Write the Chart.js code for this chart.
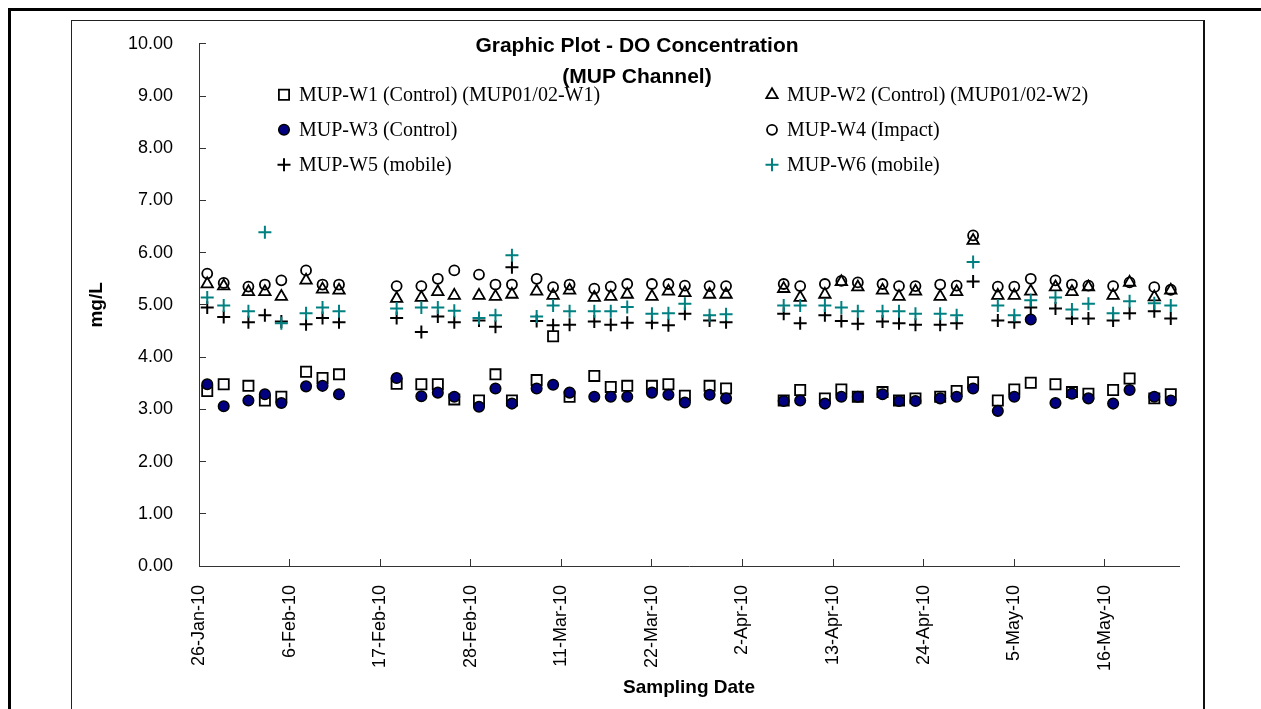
<!DOCTYPE html>
<html>
<head>
<meta charset="utf-8">
<title>Graphic Plot - DO Concentration (MUP Channel)</title>
<script src="https://cdn.jsdelivr.net/npm/chart.js@4.4.1/dist/chart.umd.min.js"></script>
<style>
  html, body { margin: 0; padding: 0; background: #fff; width: 1261px; height: 709px; overflow: hidden; }
  #outer { position: absolute; left: 8px; top: 8px; width: 1260px; height: 720px; border-top: 3px solid #000; border-left: 3px solid #000; box-sizing: border-box; }
  #inner { position: absolute; left: 71px; top: 20px; width: 1134px; height: 720px; border-left: 1px solid #222; border-top: 1px solid #222; border-right: 2px solid #111; box-sizing: border-box; }
  #wrap { position: absolute; left: 0; top: 0; width: 1261px; height: 709px; }
</style>
</head>
<body>
<div id="outer"></div>
<div id="inner"></div>
<div id="wrap"><canvas id="c" width="1261" height="709"></canvas></div>
<script>
// ---------------- DATA ----------------
const axisStart = '2010-01-26';
const axisEnd   = '2010-05-25';

const tickDates = ['2010-01-26','2010-02-06','2010-02-17','2010-02-28','2010-03-11','2010-03-22',
                   '2010-04-02','2010-04-13','2010-04-24','2010-05-05','2010-05-16'];

const yTicks = [0,1,2,3,4,5,6,7,8,9,10];

const sampleDates = [
  '2010-01-27','2010-01-29','2010-02-01','2010-02-03','2010-02-05','2010-02-08','2010-02-10','2010-02-12',
  '2010-02-19','2010-02-22','2010-02-24','2010-02-26','2010-03-01','2010-03-03','2010-03-05','2010-03-08',
  '2010-03-10','2010-03-12','2010-03-15','2010-03-17','2010-03-19','2010-03-22','2010-03-24','2010-03-26',
  '2010-03-29','2010-03-31','2010-04-07','2010-04-09','2010-04-12','2010-04-14','2010-04-16','2010-04-19',
  '2010-04-21','2010-04-23','2010-04-26','2010-04-28','2010-04-30','2010-05-03','2010-05-05','2010-05-07',
  '2010-05-10','2010-05-12','2010-05-14','2010-05-17','2010-05-19','2010-05-22','2010-05-24'
];

const seriesLabels = [
  'MUP-W1 (Control) (MUP01/02-W1)',
  'MUP-W2 (Control) (MUP01/02-W2)',
  'MUP-W3 (Control)',
  'MUP-W4 (Impact)',
  'MUP-W5 (mobile)',
  'MUP-W6 (mobile)'
];

const w1 = [3.35,3.48,3.45,3.17,3.24,3.72,3.60,3.67, 3.49,3.48,3.48,3.19,3.17,3.67,3.17,3.56,
            4.40,3.24,3.64,3.43,3.45,3.45,3.48,3.26, 3.45,3.40,3.17,3.37,3.21,3.38,3.24,3.33,
            3.17,3.21,3.24,3.35,3.52,3.17,3.38,3.51, 3.48,3.33,3.30,3.37,3.59,3.21,3.29];
const w2 = [5.40,5.36,5.25,5.25,5.16,5.47,5.30,5.28, 5.12,5.14,5.25,5.18,5.18,5.16,5.20,5.26,
            5.18,5.28,5.14,5.16,5.20,5.16,5.26,5.23, 5.20,5.20,5.31,5.14,5.20,5.44,5.34,5.28,
            5.16,5.26,5.16,5.25,6.23,5.18,5.18,5.26, 5.34,5.25,5.34,5.18,5.43,5.15,5.28];
const w3 = [3.48,3.06,3.17,3.29,3.12,3.44,3.45,3.29, 3.60,3.25,3.32,3.24,3.05,3.40,3.11,3.40,
            3.47,3.32,3.24,3.24,3.24,3.32,3.28,3.13, 3.28,3.21,3.16,3.17,3.11,3.24,3.24,3.29,
            3.16,3.16,3.21,3.24,3.40,2.97,3.24,4.72, 3.12,3.30,3.21,3.11,3.37,3.24,3.17];
const w4 = [5.60,5.42,5.35,5.39,5.47,5.66,5.39,5.39, 5.36,5.36,5.50,5.66,5.58,5.39,5.39,5.50,
            5.34,5.39,5.31,5.35,5.40,5.40,5.40,5.37, 5.36,5.36,5.40,5.36,5.40,5.46,5.43,5.40,
            5.36,5.36,5.39,5.37,6.33,5.35,5.35,5.50, 5.47,5.39,5.37,5.36,5.43,5.34,5.29];
const w5 = [4.95,4.77,4.67,4.80,4.68,4.63,4.75,4.67, 4.75,4.48,4.78,4.67,4.70,4.58,5.72,4.69,
            4.61,4.62,4.68,4.62,4.66,4.66,4.61,4.83, 4.70,4.67,4.83,4.65,4.80,4.69,4.64,4.68,
            4.65,4.62,4.62,4.65,5.45,4.70,4.67,4.95, 4.93,4.74,4.74,4.70,4.84,4.88,4.74];
const w6 = [5.14,4.99,4.88,6.39,4.65,4.84,4.95,4.88, 4.93,4.95,4.95,4.89,4.75,4.80,5.95,4.78,
            4.99,4.88,4.88,4.88,4.96,4.83,4.84,5.02, 4.80,4.82,4.99,4.99,4.99,4.95,4.88,4.88,
            4.88,4.83,4.83,4.80,5.82,4.99,4.80,5.09, 5.14,4.91,5.02,4.84,5.07,5.03,4.99];

const titleLines = ['Graphic Plot - DO Concentration', '(MUP Channel)'];
const xTitle = 'Sampling Date';
const yTitle = 'mg/L';

// ---------------- HELPERS ----------------
const DAY = 86400000;
const MON = ['Jan','Feb','Mar','Apr','May','Jun','Jul','Aug','Sep','Oct','Nov','Dec'];
function toUTC(s) { const p = s.split('-').map(Number); return Date.UTC(p[0], p[1] - 1, p[2]); }
const ORIGIN = toUTC(axisStart);
function dayNum(s) { return Math.round((toUTC(s) - ORIGIN) / DAY); }
function fmtDate(v) {
  const dt = new Date(ORIGIN + v * DAY);
  return dt.getUTCDate() + '-' + MON[dt.getUTCMonth()] + '-' + String(dt.getUTCFullYear()).slice(2);
}
function fontAvailable(name) {
  const c = document.createElement('canvas').getContext('2d');
  const t = 'MUP 10.00 Sampling Date mg/L Wm';
  c.font = '40px monospace'; const a = c.measureText(t).width;
  c.font = '40px "' + name + '", monospace'; const b = c.measureText(t).width;
  return Math.abs(a - b) > 0.5;
}
const NARROW = fontAvailable('Liberation Sans Narrow');
const SANS = NARROW ? '"Liberation Sans Narrow", "Liberation Sans", Arial, sans-serif'
                    : '"Liberation Sans", Arial, sans-serif';
const SERIF = '"Liberation Serif", "Times New Roman", serif';
const FS = NARROW ? { tick: 21, title: 24, axis: 22 } : { tick: 18, title: 21, axis: 19 };

function pts(vals) { return sampleDates.map((d, i) => ({ x: dayNum(d), y: vals[i] })); }

const styles = [
  { pointStyle: 'rect',     pointRadius: 7.2, borderColor: '#000',    backgroundColor: 'rgba(0,0,0,0)', borderWidth: 1.8 },
  { pointStyle: 'triangle', pointRadius: 6.6, borderColor: '#000',    backgroundColor: 'rgba(0,0,0,0)', borderWidth: 1.8 },
  { pointStyle: 'circle',   pointRadius: 5.3, borderColor: '#000',    backgroundColor: '#000080',       borderWidth: 1.5 },
  { pointStyle: 'circle',   pointRadius: 5.0, borderColor: '#000',    backgroundColor: 'rgba(0,0,0,0)', borderWidth: 1.8 },
  { pointStyle: 'cross',    pointRadius: 6.5, borderColor: '#000',    backgroundColor: '#000',          borderWidth: 2 },
  { pointStyle: 'cross',    pointRadius: 6.5, borderColor: '#008080', backgroundColor: '#008080',       borderWidth: 2 }
];
const seriesValues = [w1, w2, w3, w4, w5, w6];

const datasets = seriesValues.map((vals, i) => Object.assign({
  label: seriesLabels[i],
  data: pts(vals),
  showLine: false,
  pointHoverRadius: styles[i].pointRadius,
  order: 6 - i
}, styles[i], { pointBackgroundColor: styles[i].backgroundColor, pointBorderColor: styles[i].borderColor, pointBorderWidth: styles[i].borderWidth }));

// title + in-plot legend plugin
const overlayPlugin = {
  id: 'overlay',
  afterDatasetsDraw(chart) {
    const ctx = chart.ctx;
    const ca = chart.chartArea;
    ctx.save();
    // Title (centered on the frame)
    ctx.fillStyle = '#000';
    ctx.textAlign = 'center';
    ctx.textBaseline = 'middle';
    ctx.font = 'bold ' + FS.title + 'px ' + SANS;
    const cx = 637;
    titleLines.forEach((t, i) => ctx.fillText(t, cx, ca.top + 2 + i * 31));
    // Legend: two columns, three rows, inside plot area
    const colX = [ca.left + 85, ca.left + 573];
    const rowY0 = ca.top + 51, rowH = 35;
    chart.data.datasets.forEach((ds, i) => {
      const mx = colX[i % 2], my = rowY0 + Math.floor(i / 2) * rowH;
      ctx.strokeStyle = ds.borderColor;
      ctx.fillStyle = ds.backgroundColor;
      ctx.lineWidth = ds.borderWidth;
      Chart.helpers.drawPoint(ctx, { pointStyle: ds.pointStyle, radius: ds.pointRadius, borderWidth: ds.borderWidth, rotation: 0 }, mx, my);
      ctx.fillStyle = '#000';
      ctx.textAlign = 'left';
      ctx.textBaseline = 'middle';
      ctx.font = '20px ' + SERIF;
      ctx.fillText(ds.label, mx + 15, my + 1);
    });
    ctx.restore();
  }
};

new Chart(document.getElementById('c'), {
  type: 'scatter',
  data: { datasets },
  plugins: [overlayPlugin],
  options: {
    responsive: false,
    animation: false,
    events: [],
    layout: { padding: { top: 43, right: 82, bottom: 0, left: 0 } },
    plugins: { legend: { display: false }, title: { display: false }, tooltip: { enabled: false } },
    scales: {
      x: {
        type: 'linear',
        min: dayNum(axisStart),
        max: dayNum(axisEnd),
        afterBuildTicks: s => { s.ticks = tickDates.map(t => ({ value: dayNum(t) })); },
        afterFit: s => { s.height = 143; },
        ticks: {
          autoSkip: false, minRotation: 90, maxRotation: 90, padding: 26, color: '#000',
          font: { family: SANS, size: FS.tick },
          callback: v => fmtDate(v)
        },
        grid: { drawOnChartArea: false, drawTicks: true, tickLength: -7, color: '#333', lineWidth: 1 },
        border: { display: true, color: '#333', width: 1 },
        title: { display: true, text: xTitle, color: '#000', font: { family: SANS, size: FS.axis, weight: 'bold' }, padding: { top: 0, bottom: 10 } }
      },
      y: {
        type: 'linear',
        min: 0,
        max: 10,
        afterBuildTicks: s => { s.ticks = yTicks.map(v => ({ value: v })); },
        afterFit: s => { s.width = 199; },
        ticks: { padding: 33, color: '#000', font: { family: SANS, size: FS.tick }, callback: v => Number(v).toFixed(2) },
        grid: { drawOnChartArea: false, drawTicks: true, tickLength: -7, color: '#333', lineWidth: 1 },
        border: { display: true, color: '#333', width: 1 },
        title: { display: true, text: yTitle, color: '#000', font: { family: SANS, size: FS.axis, weight: 'bold' }, padding: { top: 85, bottom: 0 } }
      }
    }
  }
});
</script>
</body>
</html>
